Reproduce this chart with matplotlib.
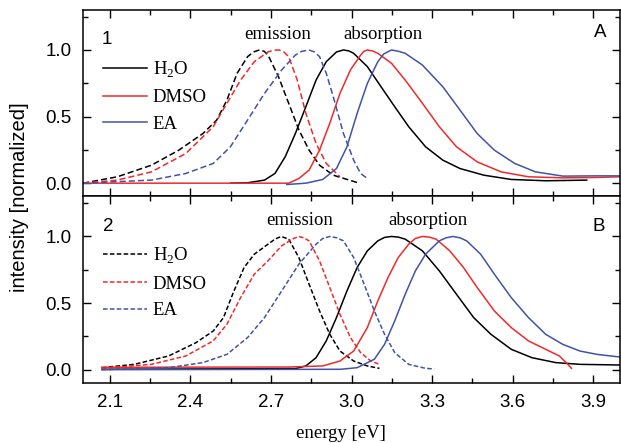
import matplotlib
matplotlib.use("Agg")
import matplotlib.pyplot as plt
from matplotlib.ticker import MultipleLocator, FormatStrFormatter

# ---------------------------------------------------------
# DATA
# ---------------------------------------------------------
solvents = ["H$_\\mathregular{2}$O", "DMSO", "EA"]

# panel 1 - emission
em1_h2o_x = [2.0, 2.128, 2.255, 2.357, 2.447, 2.498, 2.536, 2.574, 2.613, 2.635, 2.657, 2.675, 2.689, 2.728, 2.766, 2.804, 2.842, 2.881, 2.932, 3.021]
em1_h2o_y = [0.0, 0.048, 0.135, 0.248, 0.373, 0.474, 0.624, 0.825, 0.95, 0.985, 1.0, 0.99, 0.962, 0.8, 0.6, 0.4, 0.248, 0.135, 0.06, 0.005]
em1_dmso_x = [2.0, 2.128, 2.255, 2.383, 2.485, 2.536, 2.587, 2.638, 2.689, 2.710, 2.730, 2.748, 2.766, 2.798, 2.830, 2.868, 2.906, 2.957]
em1_dmso_y = [0.0, 0.023, 0.085, 0.223, 0.424, 0.6, 0.774, 0.912, 0.985, 0.998, 1.0, 0.985, 0.95, 0.774, 0.524, 0.298, 0.148, 0.048]
em1_ea_x = [2.0, 2.255, 2.383, 2.485, 2.549, 2.613, 2.676, 2.740, 2.791, 2.815, 2.842, 2.862, 2.881, 2.906, 2.932, 2.970, 3.008, 3.034, 3.059]
em1_ea_y = [0.0, 0.023, 0.073, 0.148, 0.273, 0.474, 0.674, 0.85, 0.962, 0.99, 1.0, 0.985, 0.95, 0.825, 0.65, 0.373, 0.173, 0.073, 0.035]

# panel 1 - absorption
ab1_h2o_x = [2.55, 2.613, 2.676, 2.715, 2.753, 2.791, 2.830, 2.868, 2.906, 2.944, 2.970, 2.990, 3.008, 3.059, 3.110, 3.161, 3.213, 3.276, 3.340, 3.404, 3.493, 3.595, 3.723, 3.876]
ab1_h2o_y = [0.0, 0.003, 0.023, 0.073, 0.198, 0.373, 0.574, 0.774, 0.912, 0.985, 1.0, 0.993, 0.975, 0.875, 0.724, 0.574, 0.424, 0.273, 0.173, 0.11, 0.06, 0.028, 0.018, 0.023]
ab1_dmso_x = [2.0, 2.766, 2.804, 2.842, 2.881, 2.919, 2.957, 2.996, 3.034, 3.046, 3.059, 3.078, 3.098, 3.149, 3.200, 3.264, 3.327, 3.391, 3.468, 3.557, 3.659, 3.787, 3.914, 4.0]
ab1_dmso_y = [0.0, 0.0, 0.035, 0.098, 0.248, 0.449, 0.674, 0.85, 0.962, 0.99, 1.0, 0.993, 0.975, 0.9, 0.774, 0.6, 0.424, 0.273, 0.16, 0.085, 0.048, 0.04, 0.043, 0.048]
ab1_ea_x = [2.759, 2.830, 2.893, 2.944, 2.983, 3.021, 3.059, 3.098, 3.120, 3.149, 3.175, 3.200, 3.264, 3.340, 3.404, 3.468, 3.532, 3.608, 3.685, 3.787, 3.914, 4.0]
ab1_ea_y = [-0.01, 0.0, 0.028, 0.11, 0.273, 0.524, 0.749, 0.912, 0.97, 1.0, 0.99, 0.975, 0.887, 0.724, 0.549, 0.373, 0.248, 0.148, 0.085, 0.053, 0.055, 0.055]

# panel 2 - emission
em2_h2o_x = [2.070, 2.191, 2.319, 2.421, 2.485, 2.523, 2.562, 2.600, 2.638, 2.689, 2.715, 2.738, 2.766, 2.804, 2.842, 2.881, 2.919, 2.957, 3.008, 3.059, 3.104]
em2_h2o_y = [0.015, 0.04, 0.103, 0.203, 0.29, 0.39, 0.59, 0.767, 0.867, 0.942, 0.98, 1.0, 0.98, 0.842, 0.642, 0.441, 0.266, 0.14, 0.065, 0.028, 0.01]
em2_dmso_x = [2.070, 2.255, 2.383, 2.485, 2.536, 2.587, 2.638, 2.689, 2.740, 2.779, 2.804, 2.822, 2.842, 2.881, 2.919, 2.957, 2.996, 3.034, 3.072, 3.104]
em2_dmso_y = [0.01, 0.04, 0.103, 0.216, 0.341, 0.541, 0.717, 0.817, 0.93, 0.98, 1.0, 0.99, 0.967, 0.817, 0.617, 0.416, 0.241, 0.128, 0.065, 0.04]
em2_ea_x = [2.070, 2.319, 2.447, 2.536, 2.613, 2.676, 2.740, 2.804, 2.868, 2.893, 2.919, 2.945, 2.970, 3.008, 3.047, 3.085, 3.123, 3.161, 3.213, 3.276, 3.308]
em2_ea_y = [0.0, 0.015, 0.053, 0.115, 0.241, 0.391, 0.591, 0.792, 0.942, 0.985, 1.0, 0.99, 0.967, 0.842, 0.642, 0.441, 0.266, 0.128, 0.04, 0.01, 0.005]

# panel 2 - absorption
ab2_h2o_x = [2.070, 2.791, 2.830, 2.868, 2.906, 2.944, 2.983, 3.021, 3.059, 3.098, 3.123, 3.149, 3.175, 3.200, 3.264, 3.327, 3.391, 3.455, 3.519, 3.595, 3.672, 3.761, 3.851, 4.0]
ab2_h2o_y = [0.003, 0.008, 0.028, 0.09, 0.216, 0.391, 0.591, 0.767, 0.892, 0.967, 0.993, 1.0, 0.995, 0.98, 0.892, 0.742, 0.566, 0.391, 0.266, 0.153, 0.09, 0.053, 0.04, 0.035]
ab2_dmso_x = [2.070, 2.766, 2.893, 2.957, 3.008, 3.059, 3.098, 3.136, 3.174, 3.213, 3.238, 3.264, 3.290, 3.315, 3.366, 3.417, 3.468, 3.532, 3.595, 3.659, 3.723, 3.774, 3.800, 3.819]
ab2_dmso_y = [0.018, 0.02, 0.028, 0.065, 0.14, 0.316, 0.516, 0.692, 0.842, 0.942, 0.985, 1.0, 0.995, 0.98, 0.892, 0.767, 0.617, 0.441, 0.316, 0.216, 0.153, 0.103, 0.053, 0.01]
ab2_ea_x = [2.070, 2.960, 3.021, 3.085, 3.123, 3.161, 3.200, 3.238, 3.276, 3.327, 3.352, 3.378, 3.404, 3.429, 3.481, 3.532, 3.595, 3.659, 3.723, 3.787, 3.851, 3.914, 4.0]
ab2_ea_y = [0.0, 0.003, 0.015, 0.078, 0.19, 0.366, 0.566, 0.742, 0.867, 0.967, 0.99, 1.0, 0.99, 0.967, 0.867, 0.717, 0.541, 0.391, 0.266, 0.19, 0.14, 0.115, 0.095]

colors = ["black", "#f02a2a", "#4153a8"]
SANS = "Liberation Sans"
SERIF = "Liberation Serif"

plt.rcParams['font.family'] = SANS
plt.rcParams['axes.linewidth'] = 1.1

fig = plt.figure(figsize=(6.21, 4.43), dpi=100)
W, H = 621.0, 443.0
ax1 = fig.add_axes([83 / W, (H - 196.5) / H, 537 / W, 186.5 / H])
ax2 = fig.add_axes([83 / W, (H - 383) / H, 537 / W, 186.5 / H])

em1 = [(em1_h2o_x, em1_h2o_y), (em1_dmso_x, em1_dmso_y), (em1_ea_x, em1_ea_y)]
ab1 = [(ab1_h2o_x, ab1_h2o_y), (ab1_dmso_x, ab1_dmso_y), (ab1_ea_x, ab1_ea_y)]
em2 = [(em2_h2o_x, em2_h2o_y), (em2_dmso_x, em2_dmso_y), (em2_ea_x, em2_ea_y)]
ab2 = [(ab2_h2o_x, ab2_h2o_y), (ab2_dmso_x, ab2_dmso_y), (ab2_ea_x, ab2_ea_y)]

for i in range(3):
    ax1.plot(*em1[i], color=colors[i], lw=1.1, ls=(0, (4, 2)))
    ax1.plot(*ab1[i], color=colors[i], lw=1.1, label=solvents[i])
    ax2.plot(*em2[i], color=colors[i], lw=1.1, ls=(0, (3, 1.5)), label=solvents[i])
    ax2.plot(*ab2[i], color=colors[i], lw=1.1)

for ax in (ax1, ax2):
    ax.set_xlim(2.0, 4.0)
    ax.set_ylim(-0.1, 1.3)
    ax.xaxis.set_major_locator(MultipleLocator(0.3))
    ax.xaxis.set_minor_locator(MultipleLocator(0.15))
    ax.yaxis.set_major_locator(MultipleLocator(0.5))
    ax.yaxis.set_minor_locator(MultipleLocator(0.25))
    ax.yaxis.set_major_formatter(FormatStrFormatter('%.1f'))
    ax.xaxis.set_major_formatter(FormatStrFormatter('%.1f'))
    ax.tick_params(which='both', direction='in', top=True, right=True, width=1.0)
    ax.tick_params(which='major', length=6)
    ax.tick_params(which='minor', length=3.5)
    ax.tick_params(axis='y', labelsize=13.5, pad=8)
    ax.tick_params(axis='x', labelsize=13.5, pad=8)
    ax.legend(loc='upper left', bbox_to_anchor=(20 / 537, 0.735), frameon=False,
              borderpad=0, borderaxespad=0, handlelength=2.35, handletextpad=0.3,
              labelspacing=0.5, prop={'family': SERIF, 'size': 13.5})

ax1.tick_params(axis='x', labelbottom=False)

# annotations
ax1.text(0.045, 0.84, "1", transform=ax1.transAxes, ha='center', va='center', fontsize=13.5)
ax1.text(0.963, 0.877, "A", transform=ax1.transAxes, ha='center', va='center', fontsize=13.5)
ax2.text(0.047, 0.84, "2", transform=ax2.transAxes, ha='center', va='center', fontsize=13.5)
ax2.text(0.96, 0.84, "B", transform=ax2.transAxes, ha='center', va='center', fontsize=13.5)

ax1.text(2.726, 1.113, "emission", ha='center', va='center', family=SERIF, fontsize=13.5)
ax1.text(3.117, 1.113, "absorption", ha='center', va='center', family=SERIF, fontsize=13.5)
ax2.text(2.808, 1.12, "emission", ha='center', va='center', family=SERIF, fontsize=13.5)
ax2.text(3.285, 1.12, "absorption", ha='center', va='center', family=SERIF, fontsize=13.5)

fig.text(341 / W, 1 - 434 / H, "energy [eV]", ha='center', va='center', family=SERIF, fontsize=13.5)
fig.text(20 / W, 1 - 197 / H, "intensity [normalized]", ha='center', va='center',
         rotation=90, fontsize=14.5)

fig.savefig("out.png", dpi=100)
